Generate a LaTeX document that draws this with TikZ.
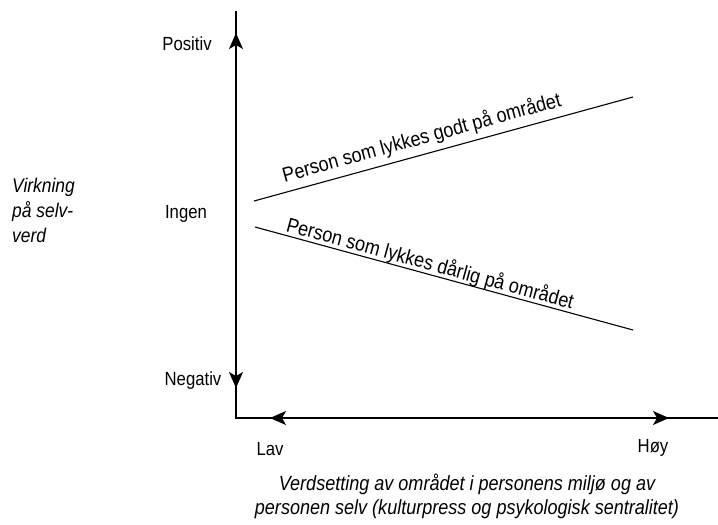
\documentclass[tikz,border=0pt]{standalone}
\usepackage{fontspec}
\setmainfont{Liberation Sans}[FakeStretch=0.88]
\usetikzlibrary{arrows.meta}
\begin{document}
\begin{tikzpicture}[x=1pt,y=-1pt,
  axis/.style={line width=1.3pt, black},
  tipline/.style={-{Stealth[length=16pt,width=14pt,inset=4pt]}, line width=1.3pt},
  ticklabel/.style={font=\fontsize{19}{22}\selectfont, inner sep=0pt, anchor=base},
  trend/.style={line width=1.1pt},
  trendlabel/.style={font=\fontsize{20.5}{23}\selectfont, sloped, inner sep=0pt, anchor=base},
  ylab/.style={font=\fontsize{19.8}{25}\selectfont\itshape, align=left, inner sep=0pt, anchor=base west},
  xlab/.style={font=\fontsize{20.5}{24}\selectfont\itshape, align=center, inner sep=0pt, anchor=base}]
\useasboundingbox (0,0) rectangle (718,525);
% axes
\coordinate (O) at (236,418);
\coordinate (Ytop) at (236,11);
\coordinate (Xend) at (718,418);
\draw[axis] (Ytop) -- (O) -- (Xend);
% arrowheads on axes
\coordinate (upbase) at (236,55);
\coordinate (uptip) at (236,33);
\coordinate (dnbase) at (236,365);
\coordinate (dntip) at (236,388);
\coordinate (lfbase) at (293,418);
\coordinate (lftip) at (270,418);
\coordinate (rtbase) at (646,418);
\coordinate (rttip) at (669,418);
\draw[tipline] (upbase) -- (uptip);
\draw[tipline] (dnbase) -- (dntip);
\draw[tipline] (lfbase) -- (lftip);
\draw[tipline] (rtbase) -- (rttip);
% axis labels
\node[ticklabel] (positiv) at (187,50) {Positiv};
\node[ticklabel] (ingen) at (186,218) {Ingen};
\node[ticklabel] (negativ) at (193,385) {Negativ};
\node[ticklabel] (lav) at (270,455) {Lav};
\node[ticklabel] (hoy) at (653,452) {Høy};
\node[ylab] (virk1) at (12,192) {Virkning};
\node[ylab] (virk2) at (12,217) {på selv-};
\node[ylab] (virk3) at (12,242) {verd};
\node[xlab] (verd1) at (467,490) {Verdsetting av området i personens miljø og av};
\node[xlab] (verd2) at (467,514) {personen selv (kulturpress og psykologisk sentralitet)};
% trend lines
\coordinate (g1) at (254,201);
\coordinate (g2) at (633,97);
\coordinate (d1) at (255,227);
\coordinate (d2) at (633,330);
\draw[trend] (g1) -- node[trendlabel, pos=0.454] (godt) {\raisebox{10pt}{Person som lykkes godt på området}} (g2);
\draw[trend] (d1) -- node[trendlabel, pos=0.456] (darlig) {\raisebox{4pt}{Person som lykkes dårlig på området}} (d2);
\end{tikzpicture}
\end{document}
